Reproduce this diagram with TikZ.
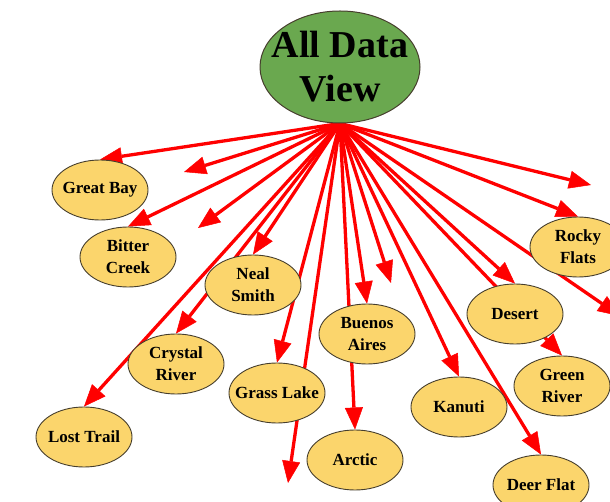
\documentclass[tikz,border=0pt]{standalone}
\usepackage{fontspec}
\setmainfont{Liberation Serif}
\usetikzlibrary{arrows.meta,shapes.geometric,backgrounds}
\definecolor{hubgreen}{RGB}{106,168,79}
\definecolor{leafyellow}{RGB}{251,213,108}
\definecolor{edgegray}{RGB}{70,62,45}
\begin{document}
\begin{tikzpicture}[x=1pt,y=-1pt,
  leaf/.style={ellipse, draw=edgegray, line width=0.9pt, fill=leafyellow,
    minimum width=96pt, minimum height=60pt, inner xsep=-10pt, inner ysep=-4pt,
    align=center, font=\bfseries\fontsize{17}{22}\selectfont},
  hubnode/.style={ellipse, draw=edgegray, line width=1pt, fill=hubgreen,
    minimum width=160pt, minimum height=112pt, inner xsep=-14pt, inner ysep=-4pt,
    align=center, font=\bfseries\fontsize{38}{44}\selectfont},
  arr/.style={draw=red, fill=red, line width=3.3pt,
    -{Triangle[length=22pt,width=18pt,line width=0.5pt]}}]
\useasboundingbox (0,0) rectangle (610,502);

\node[hubnode] (hub) at (340,67) {All Data\\View};

\node[leaf] (gb) at (100,190) {Great Bay};
\node[leaf] (bc) at (128,257) {Bitter\\Creek};
\node[leaf] (ns) at (253,285) {Neal\\Smith};
\node[leaf] (rf) at (578,247) {Rocky\\Flats};
\node[leaf] (ba) at (367,334) {Buenos\\Aires};
\node[leaf] (de) at (515,314) {Desert};
\node[leaf] (cr) at (176,364) {Crystal\\River};
\node[leaf] (gl) at (277,393) {Grass Lake};
\node[leaf] (gr) at (562,386) {Green\\River};
\node[leaf] (ka) at (459,407) {Kanuti};
\node[leaf] (lt) at (84,437) {Lost Trail};
\node[leaf] (ar) at (355,460) {Arctic};
\node[leaf] (df) at (541,485) {Deer Flat};

\coordinate (f1) at (184,172);
\coordinate (f2) at (198,228);
\coordinate (f3) at (288,483);
\coordinate (f4) at (391,283);
\coordinate (f5) at (591,185);
\coordinate (f6) at (620,316);

\begin{scope}[on background layer]
\foreach \t in {gb,bc,ns,cr,lt,gl,ba,ar,ka,df,de,gr,rf}
  \draw[arr] (hub.south) -- (\t.north);
\foreach \t in {f1,f2,f3,f4,f5,f6}
  \draw[arr] (hub.south) -- (\t);
\end{scope}
\end{tikzpicture}
\end{document}
